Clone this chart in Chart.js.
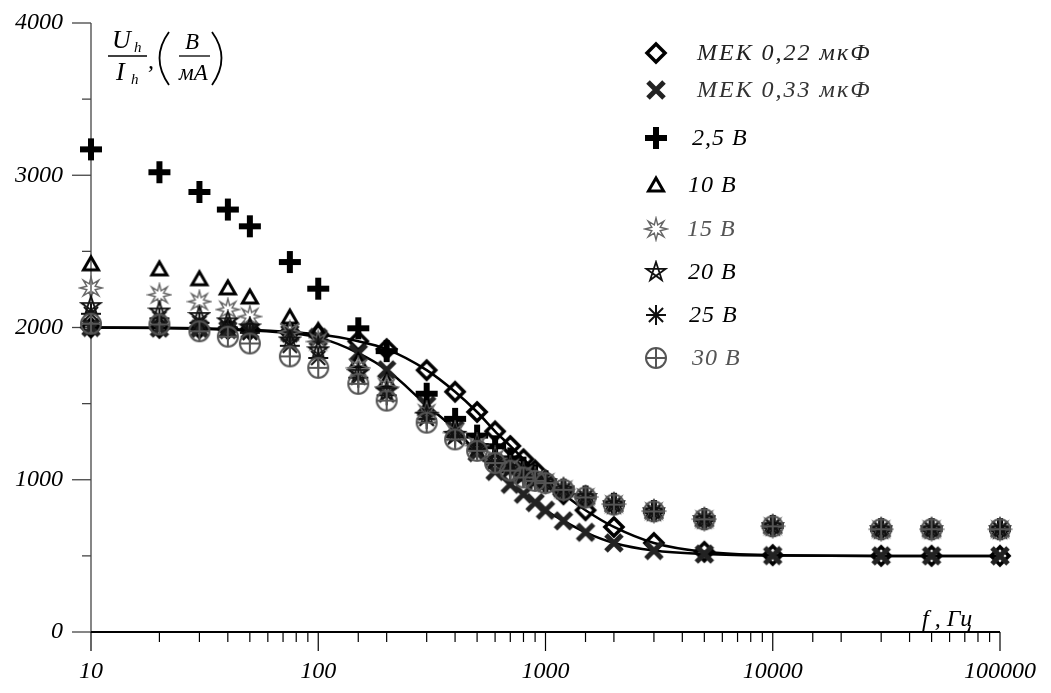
<!DOCTYPE html>
<html>
<head>
<meta charset="utf-8">
<script src="https://cdn.jsdelivr.net/npm/chart.js@4.4.0/dist/chart.umd.min.js"></script>
<style>
  html, body { margin: 0; padding: 0; background: #fff; }
  #wrap { width: 1051px; height: 693px; }
</style>
</head>
<body>
<div id="wrap"><canvas id="myChart"></canvas></div>
<script>
// frequencies, Hz
const freqs = [10, 20, 30, 40, 50, 75, 100, 150, 200, 300, 400, 500, 600, 700, 800, 900,
               1000, 1200, 1500, 2000, 3000, 5000, 10000, 30000, 50000, 100000];

// U/I, V/mA
const mek022 = [2000, 1998, 1995, 1990, 1985, 1970, 1955, 1910, 1858, 1720, 1578, 1445, 1318, 1222, 1135, 1062,
                995, 905, 800, 690, 585, 527, 505, 500, 500, 500];
const mek033 = [2000, 1996, 1992, 1986, 1980, 1962, 1935, 1832, 1722, 1490, 1330, 1178, 1055, 970, 905, 850,
                800, 730, 655, 585, 535, 512, 502, 500, 500, 500];
const v2_5 = [3170, 3020, 2890, 2775, 2665, 2430, 2255, 1995, 1845, 1565, 1400, 1290, 1220, 1140, 1080, 1030,
              990, 935, 890, 842, 795, 742, 697, 676, 676, 676];
const v10 = [2418, 2385, 2320, 2260, 2200, 2068, 1980, 1780, 1650, 1470, 1330, 1240, 1150, 1090, 1040, 1010,
             988, 938, 888, 840, 794, 742, 696, 675, 675, 675];
const v15 = [2260, 2215, 2170, 2118, 2072, 1970, 1908, 1735, 1610, 1440, 1310, 1225, 1140, 1080, 1035, 1005,
             985, 937, 887, 840, 794, 741, 695, 675, 675, 675];
const v20 = [2140, 2105, 2075, 2040, 2000, 1915, 1850, 1700, 1580, 1420, 1295, 1215, 1130, 1075, 1030, 1000,
             983, 936, 886, 839, 793, 741, 695, 675, 675, 675];
const v25 = [2090, 2060, 2030, 2000, 1965, 1880, 1800, 1670, 1555, 1400, 1280, 1200, 1120, 1065, 1020, 995,
             980, 935, 885, 838, 792, 740, 695, 675, 675, 675];
const v30 = [2025, 2020, 1975, 1940, 1895, 1810, 1735, 1630, 1520, 1375, 1265, 1190, 1110, 1060, 1015, 993,
             978, 934, 884, 837, 792, 740, 694, 675, 675, 675];

const seriesLabels = ['МЕК 0,22 мкФ', 'МЕК 0,33 мкФ', '2,5 В', '10 В', '15 В', '20 В', '25 В', '30 В'];
const seriesValues = [mek022, mek033, v2_5, v10, v15, v20, v25, v30];

// marker pictures
function marker(size, draw) {
  const c = document.createElement('canvas');
  c.width = size; c.height = size;
  const g = c.getContext('2d');
  g.translate(size / 2, size / 2);
  draw(g);
  return c;
}
const mDiamond = marker(26, g => {
  g.strokeStyle = '#000'; g.lineWidth = 3.5;
  g.beginPath(); g.moveTo(0, -9); g.lineTo(9, 0); g.lineTo(0, 9); g.lineTo(-9, 0); g.closePath(); g.stroke();
});
const mX = marker(26, g => {
  g.strokeStyle = '#222'; g.lineWidth = 5;
  g.beginPath(); g.moveTo(-8, -8); g.lineTo(8, 8); g.moveTo(8, -8); g.lineTo(-8, 8); g.stroke();
});
const mPlus = marker(26, g => {
  g.strokeStyle = '#000'; g.lineWidth = 6;
  g.beginPath(); g.moveTo(0, -11); g.lineTo(0, 11); g.moveTo(-11, 0); g.lineTo(11, 0); g.stroke();
});
const mTri = marker(22, g => {
  g.strokeStyle = '#000'; g.lineWidth = 3; g.lineJoin = 'miter';
  g.beginPath(); g.moveTo(0, -7); g.lineTo(7.5, 6); g.lineTo(-7.5, 6); g.closePath(); g.stroke();
});
const mBurst = marker(26, g => {
  g.strokeStyle = '#666'; g.lineWidth = 1.4;
  g.beginPath();
  for (let i = 0; i < 16; i++) {
    const r = i % 2 ? 4.5 : 11;
    const a = i * Math.PI / 8 - Math.PI / 2;
    i ? g.lineTo(r * Math.cos(a), r * Math.sin(a)) : g.moveTo(r * Math.cos(a), r * Math.sin(a));
  }
  g.closePath(); g.stroke();
});
const mStar = marker(24, g => {
  g.strokeStyle = '#111'; g.lineWidth = 1.8;
  g.beginPath();
  for (let k = 0; k <= 5; k++) {
    const i = (k * 2) % 5;
    const a = i * 2 * Math.PI / 5 - Math.PI / 2;
    k ? g.lineTo(10 * Math.cos(a), 10 * Math.sin(a)) : g.moveTo(10 * Math.cos(a), 10 * Math.sin(a));
  }
  g.closePath(); g.stroke();
});
const mAster = marker(24, g => {
  g.strokeStyle = '#111'; g.lineWidth = 2;
  g.beginPath();
  for (let i = 0; i < 4; i++) {
    const a = i * Math.PI / 4;
    g.moveTo(-10 * Math.cos(a), -10 * Math.sin(a)); g.lineTo(10 * Math.cos(a), 10 * Math.sin(a));
  }
  g.stroke();
});
const mCircle = marker(26, g => {
  g.strokeStyle = '#555'; g.lineWidth = 2;
  g.beginPath(); g.arc(0, 0, 10, 0, Math.PI * 2); g.stroke();
  g.beginPath(); g.moveTo(0, -10); g.lineTo(0, 10); g.moveTo(-10, 0); g.lineTo(10, 0); g.stroke();
});
const markers = [mDiamond, mX, mPlus, mTri, mBurst, mStar, mAster, mCircle];
const drawOrder = [8, 7, 6, 5, 4, 3, 2, 1];

const datasets = seriesLabels.map((label, i) => ({
  label: label,
  data: freqs.map((f, j) => ({ x: f, y: seriesValues[i][j] })),
  pointStyle: markers[i],
  pointRadius: 10,
  showLine: i < 2,
  borderColor: '#000',
  borderWidth: 2.5,
  cubicInterpolationMode: 'monotone',
  clip: false,
  order: drawOrder[i]
}));

const serif = '"Liberation Serif", "Times New Roman", serif';

const axesPlugin = {
  id: 'axesPlugin',
  beforeDatasetsDraw(chart) {
    const { ctx, chartArea: a, scales: { x, y } } = chart;
    ctx.save();
    ctx.strokeStyle = '#444';
    ctx.lineWidth = 1.3;
    ctx.beginPath(); ctx.moveTo(a.left, a.top); ctx.lineTo(a.left, a.bottom); ctx.stroke();
    y.ticks.forEach(t => {
      const py = y.getPixelForValue(t.value);
      const len = t.value % 1000 === 0 ? 19 : 9;
      ctx.beginPath(); ctx.moveTo(a.left - len, py); ctx.lineTo(a.left, py); ctx.stroke();
    });
    ctx.strokeStyle = '#000';
    ctx.lineWidth = 2;
    ctx.beginPath(); ctx.moveTo(a.left, a.bottom); ctx.lineTo(a.right, a.bottom); ctx.stroke();
    ctx.lineWidth = 1.2;
    x.ticks.forEach(t => {
      const px = x.getPixelForValue(t.value);
      const l = Math.log10(t.value);
      const len = Math.abs(l - Math.round(l)) < 1e-9 ? 19 : 10;
      ctx.beginPath(); ctx.moveTo(px, a.bottom); ctx.lineTo(px, a.bottom + len); ctx.stroke();
    });
    ctx.restore();
  },
  afterDraw(chart) {
    const { ctx } = chart;
    ctx.save();
    ctx.fillStyle = '#000';
    ctx.strokeStyle = '#000';
    ctx.textBaseline = 'alphabetic';
    ctx.textAlign = 'left';
    // y title: U_h / I_h , (В / мА)
    ctx.font = 'italic 26px ' + serif;
    ctx.fillText('U', 112, 48);
    ctx.fillText('I', 116, 80);
    ctx.font = 'italic 15px ' + serif;
    ctx.fillText('h', 134, 52);
    ctx.fillText('h', 131, 84);
    ctx.lineWidth = 1.3;
    ctx.beginPath(); ctx.moveTo(108, 56); ctx.lineTo(147, 56); ctx.stroke();
    ctx.font = 'italic 24px ' + serif;
    ctx.fillText(',', 148, 68);
    ctx.lineWidth = 1.8;
    ctx.beginPath(); ctx.moveTo(169, 32); ctx.quadraticCurveTo(150, 58, 169, 85); ctx.stroke();
    ctx.beginPath(); ctx.moveTo(212, 32); ctx.quadraticCurveTo(231, 58, 212, 85); ctx.stroke();
    ctx.font = 'italic 23px ' + serif;
    ctx.fillText('B', 185, 49);
    ctx.fillText('мA', 179, 80);
    ctx.lineWidth = 1.3;
    ctx.beginPath(); ctx.moveTo(179, 56); ctx.lineTo(210, 56); ctx.stroke();
    // x title
    ctx.font = 'italic 24px ' + serif;
    ctx.fillText('f , Гц', 922, 626);

    // legend
    const rows = [
      { y: 53, tx: 697, color: '#222', sp: '2px' },
      { y: 90, tx: 697, color: '#333', sp: '2px' },
      { y: 138, tx: 692, color: '#000', sp: '1px' },
      { y: 185, tx: 688, color: '#000', sp: '1px' },
      { y: 229, tx: 687, color: '#555', sp: '1px' },
      { y: 272, tx: 688, color: '#000', sp: '1px' },
      { y: 315, tx: 689, color: '#000', sp: '1px' },
      { y: 358, tx: 692, color: '#555', sp: '1px' }
    ];
    ctx.font = 'italic 24px ' + serif;
    ctx.textBaseline = 'middle';
    chart.data.datasets.forEach((ds, i) => {
      const r = rows[i];
      const m = ds.pointStyle;
      ctx.drawImage(m, 656 - m.width / 2, r.y - m.height / 2);
      ctx.fillStyle = r.color;
      ctx.letterSpacing = r.sp;
      ctx.fillText(ds.label, r.tx, r.y + 1);
    });
    ctx.restore();
  }
};

const ctx = document.querySelector('#myChart').getContext('2d');
const myChart = new Chart(ctx, {
  type: 'line',
  data: { datasets: datasets },
  plugins: [axesPlugin],
  options: {
    responsive: true,
    maintainAspectRatio: false,
    animation: false,
    layout: { padding: { top: 23, right: 51, left: 0, bottom: 0 } },
    plugins: { legend: { display: false }, tooltip: { enabled: false } },
    scales: {
      x: {
        type: 'logarithmic',
        min: 10,
        max: 100000,
        grid: { display: false, drawTicks: false },
        border: { display: false },
        ticks: {
          autoSkip: false,
          maxRotation: 0,
          padding: 25,
          color: '#000',
          font: { family: serif, style: 'italic', size: 24 },
          callback: v => {
            const l = Math.log10(v);
            return Math.abs(l - Math.round(l)) < 1e-9 ? String(v) : '';
          }
        },
        afterFit: s => { s.height = 61; s.paddingLeft = 0; s.paddingRight = 0; }
      },
      y: {
        min: 0,
        max: 4000,
        grid: { display: false, drawTicks: false },
        border: { display: false },
        ticks: {
          stepSize: 500,
          padding: 28,
          color: '#000',
          font: { family: serif, style: 'italic', size: 24 },
          callback: v => (v % 1000 === 0 ? String(v) : '')
        },
        afterFit: s => { s.width = 91; s.paddingTop = 0; s.paddingBottom = 0; }
      }
    }
  }
});
</script>
</body>
</html>
